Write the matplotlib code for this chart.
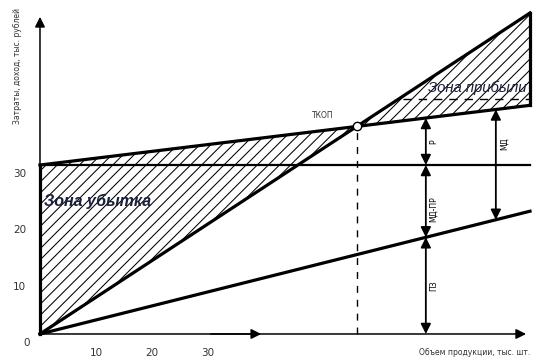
import numpy as np
import matplotlib.pyplot as plt

# --- schematic data (units of the chart: thousand pcs / thousand rub) ---
x_ends = [0, 87.5]
fixed_costs = [30, 30]
total_costs = [30, 40.6]
revenue = [0, 57.0]
variable_costs = [0, 21.8]

x_ticks = [10, 20, 30]
y_ticks = [0, 10, 20, 30]

x_arrow_parts = 68.9     # Р / МД-ПР / ПЗ arrows
x_arrow_md = 81.4        # МД arrow
profit_dash_y = 41.7
profit_dash_x0 = 64.8

# break-even point from line intersection
k_rev = (revenue[1] - revenue[0]) / (x_ends[1] - x_ends[0])
k_tc = (total_costs[1] - total_costs[0]) / (x_ends[1] - x_ends[0])
bep_x = (total_costs[0] - revenue[0]) / (k_rev - k_tc)
bep_y = revenue[0] + k_rev * bep_x


def line_at(xs, ys, x):
    return np.interp(x, xs, ys)


plt.rcParams['hatch.linewidth'] = 0.75

fig = plt.figure(figsize=(5.44, 3.64), dpi=100)
ax = fig.add_axes([0, 0, 1, 1])
ax.set_xlim(-7.14, 90.0)
ax.set_ylim(-5.33, 59.3)
ax.axis('off')

# hatched zones
loss = plt.Polygon([(0, 0), (bep_x, bep_y), (0, total_costs[0])],
                   facecolor='white', edgecolor='black', hatch='///', lw=0)
profit = plt.Polygon([(bep_x, bep_y), (x_ends[1], revenue[1]), (x_ends[1], total_costs[1])],
                     facecolor='white', edgecolor='black', hatch='///', lw=0)
ax.add_patch(loss)
ax.add_patch(profit)

# axes with arrows
axprops = dict(arrowstyle='-|>', color='black', lw=1.1, mutation_scale=15)
ax.annotate('', xy=(0, 56.8), xytext=(0, 0), arrowprops=axprops)
ax.annotate('', xy=(87.3, 0), xytext=(0, 0), arrowprops=axprops)
ax.annotate('', xy=(40.0, 0), xytext=(30, 0), arrowprops=axprops)

# lines
ax.plot(x_ends, fixed_costs, color='black', lw=1.6)
ax.plot(x_ends, total_costs, color='black', lw=2.3)
ax.plot(x_ends, revenue, color='black', lw=2.3)
ax.plot(x_ends, variable_costs, color='black', lw=2.3)
ax.plot([0, 0], [0, total_costs[0]], color='black', lw=2.3)
ax.plot([x_ends[1], x_ends[1]], [total_costs[1], revenue[1]], color='black', lw=2.3)

# break-even point
ax.plot([bep_x, bep_x], [0, bep_y], color='black', lw=1.0, ls=(0, (5, 5)))
ax.plot(bep_x, bep_y, 'o', ms=6, mfc='white', mec='black', mew=1.0, zorder=5)
ax.text(bep_x - 6.0, bep_y + 1.9, 'ТКОП', fontsize=5.5, color='#333333', ha='center', va='center')

# dashed line in profit zone
ax.plot([profit_dash_x0, x_ends[1]], [profit_dash_y, profit_dash_y], color='black', lw=1.0, ls=(0, (6, 5)))

# dimension arrows
aprops = dict(arrowstyle='<|-|>', color='black', lw=1.3, mutation_scale=15, shrinkA=0, shrinkB=0)
tc_a = line_at(x_ends, total_costs, x_arrow_parts)
vc_a = line_at(x_ends, variable_costs, x_arrow_parts)
ax.annotate('', xy=(x_arrow_parts, tc_a), xytext=(x_arrow_parts, fixed_costs[0]), arrowprops=aprops)
ax.annotate('', xy=(x_arrow_parts, fixed_costs[0]), xytext=(x_arrow_parts, vc_a), arrowprops=aprops)
ax.annotate('', xy=(x_arrow_parts, vc_a), xytext=(x_arrow_parts, 0), arrowprops=aprops)
ax.text(x_arrow_parts + 1.4, (tc_a + fixed_costs[0]) / 2, 'Р', rotation=90, fontsize=5.5, ha='center', va='center')
ax.text(x_arrow_parts + 1.4, (fixed_costs[0] + vc_a) / 2 - 1.5, 'МД-ПР', rotation=90, fontsize=5.5, ha='center', va='center')
ax.text(x_arrow_parts + 1.4, vc_a / 2, 'ПЗ', rotation=90, fontsize=5.5, ha='center', va='center')

tc_b = line_at(x_ends, total_costs, x_arrow_md)
vc_b = line_at(x_ends, variable_costs, x_arrow_md)
ax.annotate('', xy=(x_arrow_md, tc_b), xytext=(x_arrow_md, vc_b), arrowprops=aprops)
ax.text(x_arrow_md + 1.6, tc_b - 6.0, 'МД', rotation=90, fontsize=5.5, ha='center', va='center')

# zone titles
ax.text(0.7, 23.6, 'Зона убытка', fontsize=11.5, fontweight='bold', fontstyle='italic',
        family='Liberation Sans', color='#1a1f3a', ha='left', va='center')
ax.text(69.2, 43.7, 'Зона прибыли', fontsize=10.7, fontstyle='italic',
        family='Liberation Sans', color='#1a1f3a', ha='left', va='center')

# tick labels
for v in x_ticks:
    ax.text(v, -3.4, str(v), fontsize=7.5, color='#333333', ha='center', va='center')
for v in y_ticks:
    xx = -2.3 if v == 0 else -3.6
    ax.text(xx, v - 1.6, str(v), fontsize=7.5, color='#333333', ha='center', va='center')

# axis titles
ax.text(-4.1, 47.5, 'Затраты, доход, тыс. рублей', rotation=90, fontsize=5.5,
        color='#333333', ha='center', va='center')
ax.text(77.7, -3.2, 'Объем продукции, тыс. шт.', fontsize=5.5,
        color='#333333', ha='center', va='center')

fig.savefig('out.png', dpi=100)
